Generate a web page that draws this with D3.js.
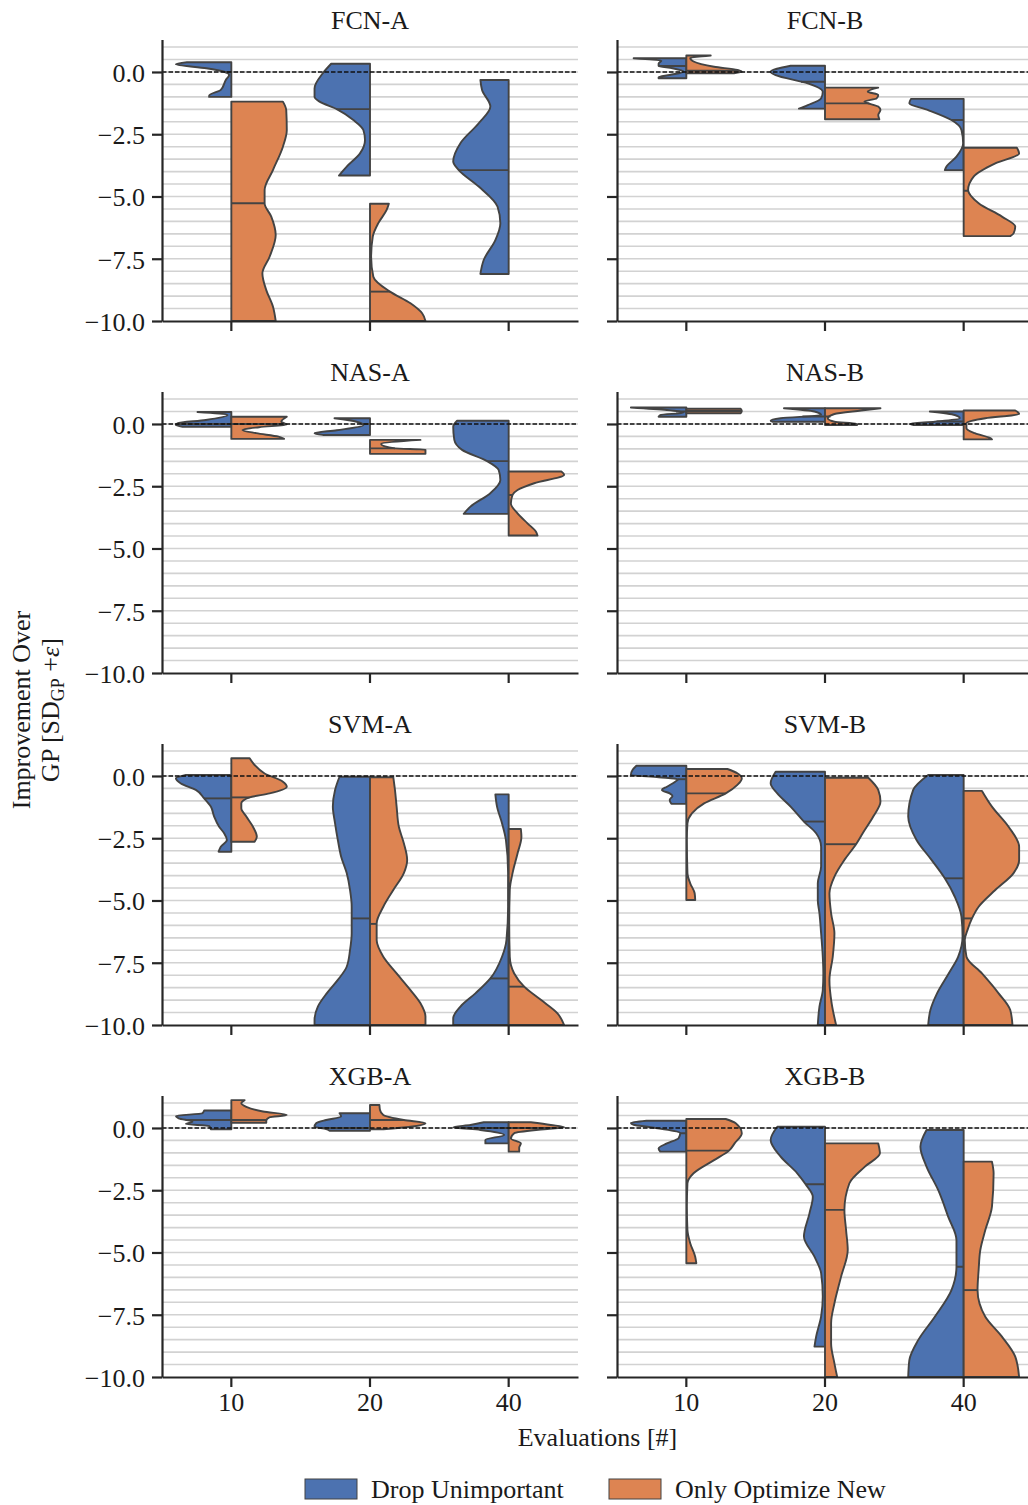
<!DOCTYPE html>
<html>
<head>
<meta charset="utf-8">
<script src="https://cdn.jsdelivr.net/npm/d3@7"></script>
<style>
  body { margin: 0; background: #fff; }
  svg text { font-family: "Liberation Serif", "Times New Roman", serif; fill: #1a1a1a; }
</style>
</head>
<body>
<div id="chart"></div>
<script>
// Categories, series and axis ticks.
var panelTitles = ["FCN-A", "FCN-B", "NAS-A", "NAS-B", "SVM-A", "SVM-B", "XGB-A", "XGB-B"];
var evaluations = ["10", "20", "40"];
var seriesNames = ["Drop Unimportant", "Only Optimize New"];
var seriesColors = ["#4c72b0", "#dd8452"];
var yTickValues = [0, -2.5, -5, -7.5, -10];

// Violin halves: [value, relative density width] from top to bottom, one per evaluation.
// Medians are stored separately. null = no data.
var fcnA_drop = [
  [[0.39,0.8],[0.31,1.0],[0.15,0.45],[0.01,0.13],[-0.12,0.04],[-0.32,0.1],[-0.72,0.19],[-0.95,0.4],[-1.0,0.4]],
  [[0.33,0.7],[-0.05,0.85],[-0.66,1.0],[-0.99,1.0],[-1.19,0.91],[-1.49,0.6],[-1.93,0.3],[-2.33,0.12],[-2.73,0.09],[-3.27,0.18],[-3.8,0.42],[-4.16,0.56]],
  [[-0.32,0.51],[-0.72,0.48],[-1.39,0.33],[-2.06,0.54],[-2.86,0.87],[-3.6,1.0],[-3.94,0.9],[-4.6,0.54],[-5.41,0.2],[-6.07,0.15],[-6.75,0.24],[-7.55,0.45],[-8.11,0.51]]
];
var fcnA_new = [
  [[-1.19,0.93],[-1.53,0.99],[-2.33,1.0],[-3.0,0.93],[-3.94,0.75],[-4.74,0.6],[-5.27,0.6],[-5.81,0.72],[-6.55,0.8],[-7.42,0.69],[-8.09,0.56],[-8.76,0.63],[-9.42,0.75],[-10.0,0.8]],
  [[-5.29,0.34],[-5.54,0.3],[-6.07,0.15],[-6.61,0.05],[-7.42,0.02],[-8.22,0.06],[-8.82,0.36],[-9.29,0.73],[-9.69,0.94],[-10.0,1.0]],
  null
];
var fcnA_dropMedian = [0.0, -1.49, -3.94];
var fcnA_newMedian = [-5.27, -8.82, null];

var fcnB_drop = [
  [[0.55,0.95],[0.45,0.45],[0.34,0.5],[0.24,0.5],[0.15,0.25],[0.01,0.05],[-0.12,0.3],[-0.21,0.5],[-0.25,0.5]],
  [[0.25,0.62],[0.01,0.98],[-0.13,0.89],[-0.46,0.31],[-0.79,0.04],[-1.06,0.07],[-1.33,0.31],[-1.47,0.47]],
  [[-1.08,0.95],[-1.26,0.98],[-1.53,0.64],[-1.93,0.22],[-2.33,0.04],[-2.86,0.01],[-3.4,0.13],[-3.8,0.31],[-3.94,0.34]]
];
var fcnB_new = [
  [[0.66,0.44],[0.56,0.07],[0.42,0.13],[0.21,0.5],[0.08,0.92],[0.01,1.0],[-0.05,0.86]],
  [[-0.63,0.96],[-0.79,0.77],[-0.92,0.96],[-1.06,0.93],[-1.19,0.71],[-1.39,0.96],[-1.53,1.0],[-1.73,0.96],[-1.9,0.98]],
  [[-3.04,0.96],[-3.27,1.0],[-3.67,0.57],[-4.2,0.18],[-4.74,0.08],[-5.27,0.27],[-5.81,0.69],[-6.21,0.93],[-6.48,0.9],[-6.59,0.84]]
];
var fcnB_dropMedian = [0.24, -0.39, -1.93];
var fcnB_newMedian = [0.05, -1.26, -4.77];

var nasA_drop = [
  [[0.48,0.61],[0.36,0.07],[0.16,0.46],[0.03,0.97],[-0.04,1.0],[-0.11,0.88]],
  [[0.23,0.64],[0.09,0.24],[-0.05,0.12],[-0.25,0.6],[-0.37,1.0],[-0.44,0.85]],
  [[0.13,0.93],[-0.11,1.0],[-0.64,0.98],[-1.04,0.84],[-1.49,0.39],[-1.85,0.18],[-2.25,0.15],[-2.78,0.33],[-3.32,0.69],[-3.61,0.81]]
];
var nasA_new = [
  [[0.29,1.0],[0.09,0.9],[-0.02,1.0],[-0.13,0.5],[-0.24,0.2],[-0.37,0.45],[-0.51,0.85],[-0.6,0.95]],
  [[-0.64,0.91],[-0.8,0.2],[-0.98,0.45],[-1.03,1.0],[-1.1,1.0],[-1.2,1.0]],
  [[-1.91,0.95],[-2.04,1.0],[-2.38,0.46],[-2.65,0.16],[-2.85,0.07],[-3.19,0.04],[-3.59,0.16],[-3.99,0.34],[-4.32,0.49],[-4.48,0.52]]
];
var nasA_dropMedian = [0.0, 0.0, -1.49];
var nasA_newMedian = [0.0, -0.98, -2.85];

var nasB_drop = [
  [[0.66,1.0],[0.56,0.35],[0.45,0.05],[0.36,0.47],[0.29,0.5]],
  [[0.63,0.74],[0.5,0.19],[0.36,0.07],[0.23,0.8],[0.13,0.98],[0.09,0.95]],
  [[0.5,0.61],[0.36,0.16],[0.23,0.07],[0.09,0.52],[0.0,0.97],[-0.04,0.9]]
];
var nasB_new = [
  [[0.61,0.98],[0.52,1.0],[0.43,0.98]],
  [[0.63,1.0],[0.54,0.65],[0.4,0.17],[0.23,0.05],[0.09,0.17],[0.0,0.56],[-0.04,0.58]],
  [[0.54,0.93],[0.4,1.0],[0.23,0.39],[0.03,0.05],[-0.17,0.05],[-0.37,0.2],[-0.57,0.48],[-0.62,0.51]]
];
var nasB_dropMedian = [0.5, 0.3, 0.1];
var nasB_newMedian = [0.52, 0.3, 0.0];

var svmA_drop = [
  [[0.04,0.82],[-0.09,1.0],[-0.3,0.91],[-0.56,0.64],[-0.9,0.49],[-1.23,0.37],[-1.63,0.31],[-2.04,0.22],[-2.3,0.13],[-2.57,0.08],[-2.84,0.19],[-3.04,0.23]],
  [[-0.03,0.55],[-0.56,0.63],[-1.23,0.67],[-1.9,0.63],[-2.57,0.58],[-3.24,0.52],[-3.9,0.42],[-4.58,0.36],[-5.25,0.33],[-6.32,0.33],[-6.99,0.36],[-7.66,0.42],[-8.19,0.58],[-8.73,0.78],[-9.26,0.94],[-9.8,1.0],[-10.0,1.0]],
  [[-0.74,0.24],[-1.23,0.21],[-1.9,0.12],[-2.57,0.05],[-3.9,0.01],[-5.25,0.01],[-6.59,0.04],[-7.26,0.12],[-8.13,0.33],[-8.73,0.6],[-9.26,0.87],[-9.73,1.0],[-10.0,1.0]]
];
var svmA_new = [
  [[0.71,0.33],[0.44,0.42],[0.1,0.6],[-0.23,0.93],[-0.43,1.0],[-0.7,0.69],[-0.86,0.33],[-1.1,0.18],[-1.3,0.18],[-1.63,0.27],[-2.04,0.39],[-2.44,0.46],[-2.64,0.42]],
  [[-0.05,0.42],[-0.56,0.45],[-1.23,0.48],[-2.04,0.52],[-2.7,0.61],[-3.37,0.67],[-3.9,0.61],[-4.58,0.42],[-5.25,0.24],[-5.92,0.12],[-6.59,0.12],[-7.26,0.24],[-7.93,0.48],[-8.6,0.73],[-9.13,0.91],[-9.66,1.0],[-10.0,1.0]],
  [[-2.13,0.22],[-2.44,0.23],[-3.11,0.16],[-3.9,0.07],[-4.58,0.02],[-5.92,0.01],[-7.26,0.02],[-7.93,0.1],[-8.46,0.28],[-8.99,0.58],[-9.53,0.88],[-10.0,1.0]]
];
var svmA_dropMedian = [-0.9, -5.72, -8.13];
var svmA_newMedian = [-0.86, -5.94, -8.46];

var svmB_drop = [
  [[0.41,0.9],[0.24,0.97],[0.04,1.0],[-0.05,0.5],[-0.13,0.15],[-0.23,0.2],[-0.43,0.35],[-0.56,0.44],[-0.7,0.3],[-0.8,0.25],[-0.96,0.3],[-1.12,0.27]],
  [[0.17,0.89],[-0.29,0.98],[-0.7,0.86],[-1.23,0.62],[-1.83,0.38],[-2.3,0.16],[-2.84,0.07],[-3.64,0.07],[-4.31,0.13],[-4.98,0.13],[-5.52,0.1],[-6.32,0.07],[-7.26,0.04],[-7.93,0.03],[-8.6,0.04],[-9.26,0.1],[-10.0,0.13]],
  [[0.04,0.64],[-0.56,0.91],[-1.63,1.0],[-2.57,0.85],[-3.37,0.58],[-4.11,0.34],[-4.85,0.16],[-5.65,0.04],[-6.45,0.02],[-7.26,0.1],[-7.93,0.27],[-8.73,0.48],[-9.4,0.6],[-10.0,0.64]]
];
var svmB_new = [
  [[0.28,0.74],[0.11,0.92],[-0.1,1.0],[-0.36,0.92],[-0.7,0.71],[-1.1,0.32],[-1.5,0.1],[-1.9,0.02],[-2.57,0.01],[-3.9,0.02],[-4.31,0.07],[-4.71,0.15],[-4.98,0.16]],
  [[-0.07,0.78],[-0.56,0.96],[-1.03,1.0],[-1.63,0.87],[-2.3,0.68],[-2.74,0.56],[-3.37,0.35],[-4.04,0.17],[-4.71,0.08],[-5.52,0.11],[-6.32,0.17],[-7.26,0.14],[-8.19,0.08],[-9.13,0.12],[-10.0,0.2]],
  [[-0.6,0.33],[-1.23,0.51],[-2.04,0.81],[-2.84,1.0],[-3.37,1.0],[-3.9,0.9],[-4.58,0.57],[-5.25,0.27],[-5.72,0.15],[-6.18,0.07],[-6.59,0.02],[-7.26,0.05],[-7.93,0.33],[-8.73,0.63],[-9.4,0.84],[-10.0,0.88]]
];
var svmB_dropMedian = [-0.13, -1.83, -4.11];
var svmB_newMedian = [-0.7, -2.74, -5.72];

var xgbA_drop = [
  [[0.7,0.49],[0.59,0.52],[0.48,1.0],[0.39,0.95],[0.25,0.7],[0.16,0.82],[0.08,0.4],[-0.05,0.37]],
  [[0.59,0.55],[0.46,0.52],[0.32,0.79],[0.19,0.97],[0.05,1.0],[-0.05,0.79],[-0.11,0.73]],
  [[0.23,0.45],[0.12,0.69],[0.03,1.0],[-0.08,0.51],[-0.28,0.08],[-0.48,0.42],[-0.62,0.42]]
];
var xgbA_new = [
  [[1.12,0.24],[0.99,0.18],[0.85,0.27],[0.66,0.57],[0.52,1.0],[0.43,0.69],[0.29,0.63],[0.21,0.63]],
  [[0.92,0.17],[0.72,0.18],[0.52,0.24],[0.32,0.61],[0.19,1.0],[0.05,0.73],[-0.05,0.24]],
  [[0.23,0.4],[0.12,0.76],[0.03,1.0],[-0.05,0.64],[-0.21,0.1],[-0.42,0.04],[-0.62,0.22],[-0.78,0.19],[-0.95,0.19]]
];
var xgbA_dropMedian = [0.32, 0.0, 0.0];
var xgbA_newMedian = [0.32, 0.32, 0.0];

var xgbB_drop = [
  [[0.29,0.72],[0.2,1.0],[0.13,0.95],[0.03,0.65],[-0.21,0.11],[-0.41,0.14],[-0.62,0.35],[-0.82,0.5],[-0.95,0.47]],
  [[0.05,0.86],[-0.48,0.98],[-1.15,0.8],[-1.82,0.5],[-2.26,0.35],[-2.76,0.22],[-3.43,0.28],[-4.36,0.38],[-5.17,0.19],[-5.83,0.07],[-6.77,0.04],[-7.57,0.07],[-8.38,0.16],[-8.78,0.19]],
  [[-0.08,0.67],[-0.75,0.78],[-1.55,0.67],[-2.49,0.46],[-3.56,0.28],[-4.5,0.13],[-5.57,0.13],[-6.51,0.22],[-7.58,0.52],[-8.52,0.82],[-9.33,0.98],[-10.0,1.0]]
];
var xgbB_new = [
  [[0.36,0.71],[0.19,0.89],[-0.21,1.0],[-0.62,0.87],[-0.91,0.77],[-1.29,0.5],[-1.82,0.13],[-2.22,0.02],[-3.16,0.01],[-4.1,0.02],[-4.63,0.07],[-5.17,0.16],[-5.43,0.18]],
  [[-0.62,0.96],[-1.02,0.99],[-1.55,0.72],[-2.22,0.44],[-3.29,0.35],[-4.1,0.38],[-4.9,0.41],[-5.97,0.29],[-7.04,0.17],[-7.84,0.11],[-8.65,0.11],[-9.45,0.17],[-10.0,0.22]],
  [[-1.35,0.51],[-1.82,0.54],[-3.16,0.51],[-4.1,0.39],[-4.9,0.3],[-5.7,0.27],[-6.51,0.25],[-7.58,0.39],[-8.38,0.69],[-9.18,0.93],[-10.0,1.0]]
];
var xgbB_dropMedian = [-0.21, -2.26, -5.57];
var xgbB_newMedian = [-0.91, -3.29, -6.51];

// Group the arrays per facet: [drop, new] profiles and medians.
var panelProfiles = [
  [fcnA_drop, fcnA_new], [fcnB_drop, fcnB_new],
  [nasA_drop, nasA_new], [nasB_drop, nasB_new],
  [svmA_drop, svmA_new], [svmB_drop, svmB_new],
  [xgbA_drop, xgbA_new], [xgbB_drop, xgbB_new]
];
var panelMedians = [
  [fcnA_dropMedian, fcnA_newMedian], [fcnB_dropMedian, fcnB_newMedian],
  [nasA_dropMedian, nasA_newMedian], [nasB_dropMedian, nasB_newMedian],
  [svmA_dropMedian, svmA_newMedian], [svmB_dropMedian, svmB_newMedian],
  [xgbA_dropMedian, xgbA_newMedian], [xgbB_dropMedian, xgbB_newMedian]
];

// Layout.
var width = 1028,
    height = 1505,
    colX = [162, 617],
    rowTop = 39.6,
    rowStep = 352,
    plotW = 416,
    plotH = 281.4,
    fontSize = 26,
    outline = "#434343",
    outlineWidth = 1.9,
    axisColor = "#262626";

var svg = d3.select("#chart").append("svg")
  .attr("width", width)
  .attr("height", height)
  .style("font-size", fontSize + "px");

var x = d3.scaleBand().domain(evaluations).range([0, plotW]).padding(0);
var y = d3.scaleLinear().domain([-10, 1.3]).range([plotH, 0]);
var halfW = x.bandwidth() * 0.4;
var gridValues = d3.range(-19, 3).map(function(k){ return k * 0.5; });

// Linear lookup of a profile's width at a given value (for median lines).
function widthAt(profile, v){
  for (var k = 0; k < profile.length - 1; k++){
    var a = profile[k], b = profile[k + 1];
    if (v <= a[0] && v >= b[0]){
      var t = (a[0] - v) / (a[0] - b[0] || 1);
      return a[1] + t * (b[1] - a[1]);
    }
  }
  return v > profile[0][0] ? profile[0][1] : profile[profile.length - 1][1];
}

panelTitles.forEach(function(title, i){
  var col = i % 2, row = Math.floor(i / 2);
  var g = svg.append("g")
    .attr("transform", "translate(" + colX[col] + "," + (rowTop + row * rowStep) + ")");

  g.append("clipPath").attr("id", "clip" + i)
    .append("rect").attr("width", plotW).attr("height", plotH);

  // Horizontal grid.
  g.append("g").selectAll("line")
    .data(gridValues)
    .enter().append("line")
      .attr("x1", 0).attr("x2", plotW)
      .attr("y1", function(d){ return y(d); })
      .attr("y2", function(d){ return y(d); })
      .attr("stroke", "#d2d2d2")
      .attr("stroke-width", 1.6);

  // Split violins.
  var vg = g.append("g").attr("clip-path", "url(#clip" + i + ")");
  [0, 1].forEach(function(s){
    var side = s === 0 ? -1 : 1;
    evaluations.forEach(function(ev, j){
      var profile = panelProfiles[i][s][j];
      if (!profile) return;
      var cx = x(ev) + x.bandwidth() / 2;
      var area = d3.area()
        .curve(d3.curveMonotoneY)
        .y(function(d){ return y(d[0]); })
        .x0(cx)
        .x1(function(d){ return cx + side * d[1] * halfW; });
      vg.append("path")
        .attr("d", area(profile))
        .attr("fill", seriesColors[s])
        .attr("stroke", outline)
        .attr("stroke-width", outlineWidth)
        .attr("stroke-linejoin", "round");
      var med = panelMedians[i][s][j];
      if (med !== null){
        vg.append("line")
          .attr("x1", cx)
          .attr("x2", cx + side * widthAt(profile, med) * halfW)
          .attr("y1", y(med)).attr("y2", y(med))
          .attr("stroke", outline)
          .attr("stroke-width", outlineWidth);
      }
    });
  });

  // Zero reference line.
  g.append("line")
    .attr("x1", 0).attr("x2", plotW)
    .attr("y1", y(0)).attr("y2", y(0))
    .attr("stroke", "#111")
    .attr("stroke-width", 1.5)
    .attr("stroke-dasharray", "4.5,2");

  // Axes.
  var yAxis = d3.axisLeft(y)
    .tickValues(yTickValues)
    .tickSize(10)
    .tickSizeOuter(0)
    .tickPadding(7)
    .tickFormat(col === 0 ? d3.format(".1f") : function(){ return ""; });
  var yg = g.append("g").call(yAxis);

  var xAxis = d3.axisBottom(x)
    .tickSize(10)
    .tickSizeOuter(0)
    .tickPadding(6)
    .tickFormat(row === 3 ? function(d){ return d; } : function(){ return ""; });
  var xg = g.append("g").attr("transform", "translate(0," + plotH + ")").call(xAxis);

  [yg, xg].forEach(function(ax){
    ax.select(".domain").attr("stroke", axisColor).attr("stroke-width", 2.2);
    ax.selectAll(".tick line").attr("stroke", axisColor).attr("stroke-width", 2.2);
    ax.selectAll(".tick text")
      .attr("fill", "#1a1a1a")
      .style("font-family", "'Liberation Serif', 'Times New Roman', serif")
      .style("font-size", fontSize + "px");
  });
  yg.selectAll(".tick text").attr("dy", "0.36em");

  // Facet title.
  g.append("text")
    .attr("x", plotW / 2)
    .attr("y", -10.5)
    .attr("text-anchor", "middle")
    .text(title);
});

// Shared axis labels.
var midX = (colX[0] + colX[1] + plotW) / 2;
svg.append("text")
  .attr("x", midX)
  .attr("y", 1446)
  .attr("text-anchor", "middle")
  .text("Evaluations [#]");

var yLabelY = 710;
svg.append("text")
  .attr("transform", "translate(30," + yLabelY + ") rotate(-90)")
  .attr("text-anchor", "middle")
  .text("Improvement Over");
var yl2 = svg.append("text")
  .attr("transform", "translate(59," + yLabelY + ") rotate(-90)")
  .attr("text-anchor", "middle");
yl2.append("tspan").text("GP [SD");
yl2.append("tspan").attr("dy", 5).style("font-size", "18px").text("GP");
yl2.append("tspan").attr("dy", -5).text(" +");
yl2.append("tspan").style("font-style", "italic").text("\u03b5");
yl2.append("tspan").text("]");

// Legend.
var legendX = [305, 609];
seriesNames.forEach(function(name, s){
  var lg = svg.append("g").attr("transform", "translate(" + legendX[s] + ",1479)");
  lg.append("rect")
    .attr("width", 52).attr("height", 20)
    .attr("fill", seriesColors[s])
    .attr("stroke", outline)
    .attr("stroke-width", 1);
  lg.append("text")
    .attr("x", 66).attr("y", 19)
    .text(name);
});
</script>
</body>
</html>
